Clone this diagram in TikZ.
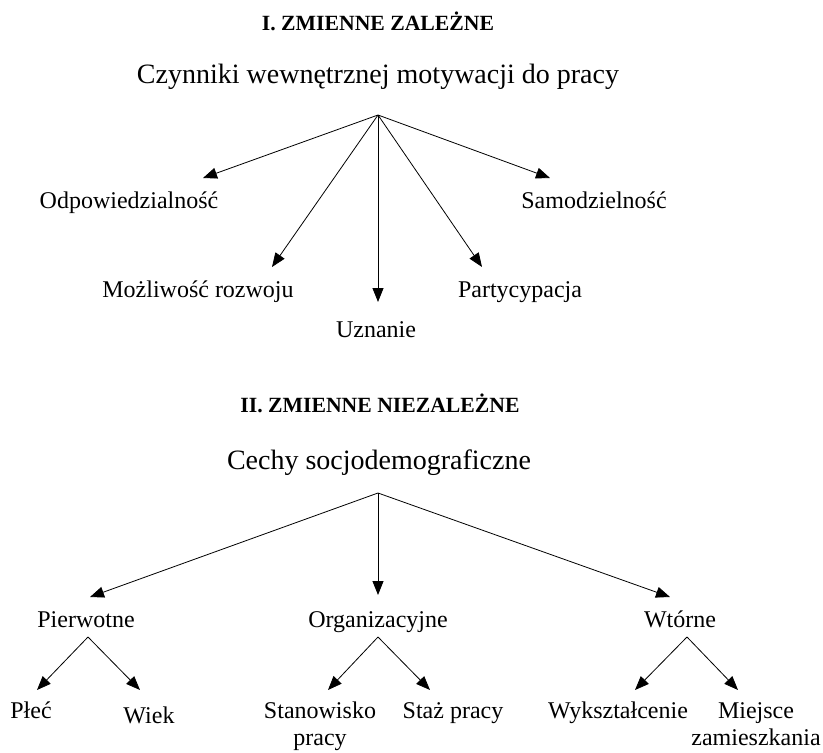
\documentclass[tikz,border=0pt]{standalone}
\usepackage{fontspec}
\setmainfont{Liberation Serif}
\usetikzlibrary{arrows.meta}
\begin{document}
\begin{tikzpicture}[x=1pt,y=-1pt,
  lab/.style={font=\fontsize{24}{27}\selectfont, anchor=base, inner sep=0pt},
  big/.style={font=\fontsize{28}{32}\selectfont, anchor=base, inner sep=0pt},
  ttl/.style={font=\fontsize{21.7}{26}\selectfont\bfseries, anchor=base, inner sep=0pt},
  arr/.style={-{Triangle[length=14pt,width=11pt]}, line width=0.8pt},
  ln/.style={line width=0.8pt}]
\useasboundingbox (0,0) rectangle (823,753);

% ---------- Part I ----------
\node[ttl] (t1) at (378,30) {I. ZMIENNE ZALEŻNE};
\node[big] (czyn) at (378,83) {Czynniki wewnętrznej motywacji do pracy};
\coordinate (a1) at (378,115);

\node[lab] (odp) at (129,208) {Odpowiedzialność};
\node[lab] (sam) at (594,208) {Samodzielność};
\node[lab] (moz) at (198,297) {Możliwość rozwoju};
\node[lab] (par) at (520,297) {Partycypacja};
\node[lab] (uzn) at (376,337) {Uznanie};

\coordinate (todp) at (203,178);
\coordinate (tsam) at (550,178);
\coordinate (tmoz) at (272,267);
\coordinate (tpar) at (482,267);
\coordinate (tuzn) at (378,302);

\draw[arr] (a1) -- (todp);
\draw[arr] (a1) -- (tsam);
\draw[arr] (a1) -- (tmoz);
\draw[arr] (a1) -- (tpar);
\draw[arr] (a1) -- (tuzn);

% ---------- Part II ----------
\node[ttl] (t2) at (380,412) {II. ZMIENNE NIEZALEŻNE};
\node[big] (cech) at (379,469) {Cechy socjodemograficzne};
\coordinate (a2) at (378,493);

\node[lab] (pie) at (86,627) {Pierwotne};
\node[lab] (org) at (378,627) {Organizacyjne};
\node[lab] (wto) at (680,627) {Wtórne};

\coordinate (tpie) at (90,597);
\coordinate (torg) at (378,595);
\coordinate (twto) at (670,597);

\draw[arr] (a2) -- (tpie);
\draw[arr] (a2) -- (torg);
\draw[arr] (a2) -- (twto);

% sub-apexes
\coordinate (spie) at (88,637);
\coordinate (sorg) at (378,637);
\coordinate (swto) at (687,637);

\node[lab] (ple) at (31,718) {Płeć};
\node[lab] (wie) at (149,723) {Wiek};
\node[lab] (sta) at (320,718) {\begin{tabular}[t]{@{}c@{}}Stanowisko\\pracy\end{tabular}};
\node[lab] (staz) at (453,718) {Staż pracy};
\node[lab] (wyk) at (618,718) {Wykształcenie};
\node[lab] (mie) at (756,718) {\begin{tabular}[t]{@{}c@{}}Miejsce\\zamieszkania\end{tabular}};

\coordinate (tple) at (37,690);
\coordinate (twie) at (140,690);
\coordinate (tsta) at (328,690);
\coordinate (tstaz) at (430,690);
\coordinate (twyk) at (635,690);
\coordinate (tmie) at (738,690);

\draw[arr] (spie) -- (tple);
\draw[arr] (spie) -- (twie);
\draw[arr] (sorg) -- (tsta);
\draw[arr] (sorg) -- (tstaz);
\draw[arr] (swto) -- (twyk);
\draw[arr] (swto) -- (tmie);
\end{tikzpicture}
\end{document}
